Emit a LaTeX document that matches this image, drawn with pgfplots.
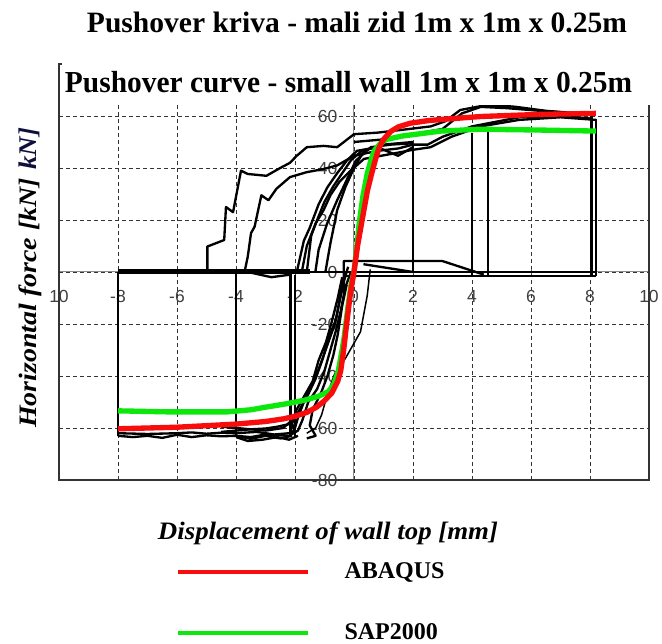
\documentclass[border=0pt]{standalone}
\usepackage{pgfplots}
\pgfplotsset{compat=1.18}
\usepackage{fontspec}
\setmainfont{Liberation Serif}
\setsansfont{Liberation Sans}
\definecolor{abq}{RGB}{248,12,12}
\definecolor{sap}{RGB}{12,232,12}
\definecolor{navyk}{RGB}{15,15,60}
\begin{document}
\begin{tikzpicture}
\useasboundingbox (0,0) rectangle (397.2pt,386.4pt);
\begin{axis}[
  at={(35.4pt,98.4pt)}, anchor=south west,
  width=354pt, height=249.6pt, scale only axis,
  xmin=-10, xmax=10, ymin=-80, ymax=80,
  axis lines=middle,
  axis line style={-, black!45, line width=0.6pt},
  every inner x axis line/.append style={-},
  every inner y axis line/.append style={-},
  hide obscured x ticks=false, hide obscured y ticks=false,
  xtick={-10,-8,...,10}, xticklabels={10,-8,-6,-4,-2,0,2,4,6,8,10},
  ytick={-80,-60,...,60}, yticklabels={-80,-60,-40,-20,0,20,40,60},
  tick style={black!60, line width=0.5pt},
  major tick length=3pt,
  tick label style={font=\sffamily\fontsize{10.5}{12}\selectfont, text=black!75},
  x tick label style={yshift=-6pt},
  y tick label style={xshift=-5pt},
  grid=major,
  major grid style={black!80, line width=0.55pt, dash pattern=on 2.4pt off 1.8pt},
  clip=false,
  reverse legend,
  legend cell align=left,
  legend style={at={(axis description cs:0.197,-0.19)}, anchor=north west, draw=none, fill=none, inner sep=0pt, row sep=21.5pt, font=\bfseries\fontsize{14.4}{16}\selectfont, /tikz/every odd column/.append style={column sep=19pt}},
  legend image code/.code={\draw[#1,line width=2.4pt] (0pt,0pt) -- (78pt,0pt);},
  blk/.style={black, line width=1.4pt, line join=round, forget plot},
]
\draw[black!80, line width=0.7pt] (rel axis cs:0,0) rectangle (rel axis cs:1,1);
% --- experimental hysteresis (black) ---
\addplot[blk, line width=3pt] coordinates {(-8,0.3) (-1.5,0.3)};
\addplot[blk] coordinates {(-1.5,0) (8.2,0)};
\addplot[blk] coordinates {(-0.3,-1.5) (8.2,-1.5)};
\addplot[blk] coordinates {(-8,0) (-8,-63)};
\addplot[blk] coordinates {(-4,0) (-4,-63)};
\addplot[blk] coordinates {(-2.15,0) (-2.15,-63)};
\addplot[blk] coordinates {(-2.0,-1) (-2.0,-63)};
\addplot[blk] coordinates {(2.0,0) (2.0,48.5)};
\addplot[blk] coordinates {(4.0,-1) (4.0,53.5)};
\addplot[blk] coordinates {(4.55,-1) (4.55,55.5)};
\addplot[blk] coordinates {(8.05,-1.5) (8.05,60.5)};
\addplot[blk] coordinates {(8.2,-1.5) (8.2,59)};
\addplot[blk] coordinates {(-0.35,-8) (-0.35,4.2) (3.0,4.2) (4.4,-1)};
\addplot[blk] coordinates {(0.32,3) (2.0,0)};
\addplot[blk] coordinates {(-3.6,0) (-2.8,-2) (-2.15,-1)};
% positive branches
\addplot[blk] coordinates {(-4.97,0) (-4.97,9.8) (-4.4,12.3) (-4.34,25) (-4.1,23) (-3.83,39) (-3.6,37.7) (-2.97,37) (-2.5,40) (-2.17,42) (-1.94,44.7) (-1.6,48) (-1.03,48.5) (-0.57,48) (0,53) (0.8,53.6) (1.5,54.5) (2.6,56) (3.1,58) (3.6,62.3) (4.3,63.8) (5,64) (5.5,63.5) (6.5,62) (7.3,61.3) (8.05,60.5)};
\addplot[blk] coordinates {(-3.71,0) (-3.6,6) (-3.49,15) (-3.37,17.4) (-3.14,29.5) (-2.9,27.6) (-2.63,32) (-2.17,36.5) (-1.6,38.4) (-1.03,39.6) (-0.57,41) (0,44.7) (0.8,46.6) (1.5,47.5) (2,49) (2.5,49) (3,52) (4,56) (5.6,59.5) (7,60) (8.05,59)};
\addplot[blk] coordinates {(-1.94,0) (-1.7,12) (-1.5,17) (-1.2,26) (-0.9,32.6) (-0.57,38) (-0.23,43) (0.1,46.6) (0.8,48) (1.49,44.7) (2,48)};
\addplot[blk] coordinates {(-1.77,0) (-1.6,10) (-1.3,18.7) (-1.03,23.8) (-0.8,29.5) (-0.5,34.6) (-0.11,39) (0.34,43.5) (1.26,45.4) (2,47) (2.6,48) (3.3,52) (4.3,56) (5.6,58.5) (7,59.5) (8.2,58.5)};
\addplot[blk] coordinates {(-0.97,0) (-0.8,11) (-0.57,23.8) (-0.29,32.7) (0,40) (0.34,46.6) (1,49) (2,50)};
\addplot[blk] coordinates {(-1.31,0) (-1.2,8.5) (-0.91,18.7) (-0.57,27.6) (-0.23,35.8) (0.06,42.8) (0.57,48) (1.26,49) (2,49.5)};
\addplot[blk] coordinates {(-1.6,0) (-1.45,14) (-1.25,20) (-1.0,27) (-0.7,33) (-0.4,38) (-0.1,43) (0.3,47)};
\addplot[blk] coordinates {(0,50) (1,51) (3,55) (3.66,61) (4.3,63.5) (5.2,63) (6.5,61.8) (8.05,60.6)};
% negative branches
\addplot[blk] coordinates {(-0.2,2) (-0.35,-4) (-0.5,-12) (-0.65,-20) (-0.9,-28) (-1.15,-36) (-1.45,-44) (-1.7,-50) (-1.9,-56) (-2.0,-60) (-2.1,-62)};
\addplot[blk] coordinates {(-0.1,0) (-0.3,-6) (-0.45,-15) (-0.6,-22) (-0.8,-30) (-1.0,-38) (-1.25,-45) (-1.55,-50) (-1.75,-57) (-1.9,-61) (-2.2,-63) (-3,-62.5) (-3.5,-63.5) (-4,-63)};
\addplot[blk] coordinates {(-0.4,-2) (-0.55,-10) (-0.75,-19) (-0.95,-27) (-1.2,-34) (-1.4,-42) (-1.7,-48) (-1.95,-53) (-2.1,-58) (-2.0,-62)};
\addplot[blk] coordinates {(-0.25,-5) (-0.4,-13) (-0.55,-24) (-0.7,-32) (-0.9,-40) (-1.1,-46) (-1.4,-53) (-1.5,-59) (-1.3,-63) (-1.6,-64)};
\addplot[blk, line width=0.9pt] coordinates {(0.55,1) (0.45,-9) (0.22,-23) (-0.28,-33) (-0.67,-39.6) (-0.9,-47) (-1.1,-55) (-1.3,-60) (-1.6,-62)};
\addplot[blk] coordinates {(-0.3,0) (-0.45,-8) (-0.6,-18) (-0.85,-25) (-1.05,-33) (-1.3,-41) (-1.55,-47) (-1.8,-52) (-2.0,-56) (-2.4,-60) (-3.0,-61) (-4.5,-59.5)};
\addplot[blk] coordinates {(-8,-63) (-7.5,-63.5) (-7,-63) (-6.5,-63.8) (-6,-62.6) (-5.5,-63.5) (-5,-62.8) (-4.5,-63.2) (-4,-63) (-3.5,-64.2) (-3,-63) (-2.5,-64) (-2.1,-63)};
\addplot[blk] coordinates {(-8,-62) (-7,-62.3) (-6,-62) (-5.5,-61.7) (-5,-62.2) (-4.5,-61.8) (-4,-62) (-3.3,-61.5) (-2.7,-62.5) (-2.2,-62)};
\addplot[blk] coordinates {(-4.5,-61.5) (-4,-61) (-3.5,-60.5) (-3.0,-60.2) (-2.6,-59.5) (-2.2,-58.5) (-2,-57)};
\addplot[blk] coordinates {(-4,-63.5) (-3.6,-65) (-3.1,-64.5) (-2.6,-63.5) (-2.2,-64.5) (-1.9,-63)};
% --- numerical curves ---
\addplot[sap, line width=3.2pt, line join=round] coordinates {(-8,-53.4) (-6.3,-53.8) (-4.3,-53.8) (-3.5,-53) (-3,-52) (-2.3,-50.7) (-1.67,-49.3) (-1.2,-47.8) (-0.87,-46) (-0.7,-43.5) (-0.54,-38.5) (-0.45,-33) (-0.34,-25.7) (-0.2,-13) (-0.1,-5) (0,0) (0.08,8) (0.18,19) (0.3,29) (0.45,38) (0.6,44) (0.71,47) (0.9,49.5) (1.1,51) (1.64,52.3) (2.95,54.2) (4.27,54.9) (6.25,54.6) (8.2,54.2)};
\addlegendentry{SAP2000}
\addplot[abq, line width=3.2pt, line join=round] coordinates {(-8,-60.3) (-6,-59.7) (-5,-59.1) (-4,-58.5) (-3,-57.5) (-2.4,-56.5) (-2,-55.5) (-1.6,-54) (-1.27,-52) (-1.0,-49.5) (-0.75,-46.5) (-0.55,-42) (-0.45,-38) (-0.35,-30) (-0.25,-20) (-0.12,-8) (0,0) (0.12,10) (0.3,21.5) (0.45,31) (0.58,37) (0.72,43) (0.84,47.5) (1.0,51) (1.24,54) (1.5,55.8) (1.9,57.2) (2.5,58.2) (3,58.7) (4.3,59.8) (6.25,60.6) (8.2,61)};
\addlegendentry{ABAQUS}
\end{axis}
% white band behind the second title
\fill[white] (37.2pt,323.4pt) rectangle (397.2pt,350.4pt);
\node[anchor=base, inner sep=0pt] at (214.2pt,366.6pt) {\resizebox{324pt}{12.3pt}{\bfseries Pushover kriva - mali zid 1m x 1m x 0.25m}};
\node[anchor=base, inner sep=0pt] at (209.1pt,330.6pt) {\resizebox{340.2pt}{12.7pt}{\bfseries Pushover curve - small wall 1m x 1m x 0.25m}};
\node[anchor=base, inner sep=0pt] at (196.8pt,62.4pt) {\resizebox{204pt}{10.6pt}{\bfseries\itshape Displacement of wall top [mm]}};
\node[anchor=base, inner sep=0pt, rotate=90] at (22.2pt,204.6pt) {\resizebox{150pt}{10.6pt}{\bfseries\itshape Horizontal force [kN]}};
\node[anchor=base, inner sep=0pt, rotate=90, text=navyk] at (22.2pt,297pt) {\resizebox{25.2pt}{10.6pt}{\bfseries\itshape kN]}};
\end{tikzpicture}
\end{document}
